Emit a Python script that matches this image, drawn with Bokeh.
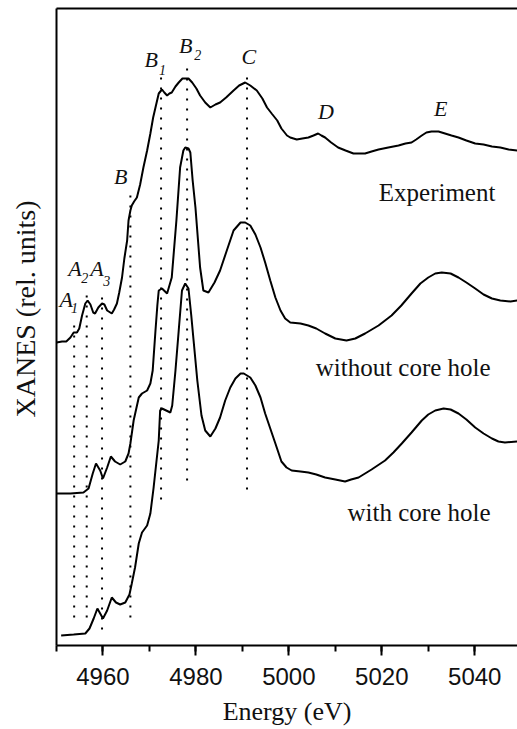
from bokeh.plotting import figure
from bokeh.models import (Range1d, LinearAxis, FixedTicker, SingleIntervalTicker, Title)
from bokeh.core.properties import value
from bokeh.embed import file_html
from bokeh.resources import INLINE

# ---------------- data (energy in eV, intensity in rel. units) ----------------
exp_e = [4950.0, 4951.2, 4952.1, 4953.0, 4953.7, 4954.4, 4954.9, 4955.5, 4956.2, 4956.7,
         4957.3, 4957.9, 4958.3, 4959.0, 4959.8, 4960.3, 4960.9, 4961.9, 4962.4, 4963.0,
         4963.5, 4964.1, 4964.6, 4965.2, 4965.5, 4965.9, 4966.2, 4966.7, 4967.3, 4968.0,
         4968.7, 4969.5, 4970.2, 4970.8, 4971.3, 4972.0, 4972.7, 4973.2, 4973.8, 4974.3,
         4974.8, 4975.6, 4976.3, 4977.1, 4977.7, 4978.4, 4979.2, 4980.1, 4980.9, 4982.0,
         4983.1, 4984.2, 4985.2, 4986.5, 4988.1, 4989.3, 4990.6, 4991.7, 4993.1, 4994.3,
         4995.3, 4996.3, 4997.5, 4998.4, 4999.6, 5000.3, 5001.7, 5002.9, 5004.2, 5005.3,
         5006.3, 5007.0, 5007.8, 5009.1, 5010.6, 5012.2, 5013.9, 5015.0, 5016.4, 5017.8,
         5019.3, 5021.4, 5023.6, 5025.1, 5026.4, 5027.4, 5028.6, 5029.6, 5030.7, 5032.2,
         5033.6, 5035.0, 5036.5, 5038.2, 5040.1, 5041.9, 5043.7, 5045.5, 5047.3, 5049.2]
exp_i = [3.03, 3.04, 3.04, 3.08, 3.13, 3.13, 3.17, 3.30, 3.42, 3.45,
         3.41, 3.33, 3.32, 3.38, 3.42, 3.41, 3.35, 3.32, 3.36, 3.42,
         3.53, 3.68, 3.87, 4.05, 4.25, 4.35, 4.40, 4.44, 4.48, 4.61,
         4.78, 4.95, 5.12, 5.28, 5.38, 5.52, 5.56, 5.53, 5.50, 5.52,
         5.53, 5.59, 5.63, 5.67, 5.67, 5.67, 5.63, 5.57, 5.50, 5.43,
         5.38, 5.41, 5.43, 5.48, 5.55, 5.60, 5.63, 5.60, 5.55, 5.47,
         5.38, 5.32, 5.25, 5.17, 5.10, 5.08, 5.06, 5.07, 5.08, 5.10,
         5.12, 5.10, 5.08, 5.03, 4.98, 4.95, 4.92, 4.92, 4.92, 4.94,
         4.96, 4.98, 5.00, 5.02, 5.03, 5.06, 5.10, 5.13, 5.14, 5.14,
         5.12, 5.10, 5.08, 5.05, 5.02, 5.01, 4.99, 4.98, 4.96, 4.95]

nohole_e = [4950.0, 4953.0, 4955.8, 4956.9, 4957.8, 4958.5, 4959.4, 4960.0, 4960.9, 4961.7,
            4962.6, 4963.7, 4964.8, 4965.5, 4965.9, 4966.6, 4967.7, 4968.4, 4969.5, 4970.2,
            4970.7, 4971.3, 4971.7, 4972.0, 4972.7, 4973.8, 4974.8, 4975.8, 4976.6, 4977.3,
            4977.7, 4978.4, 4978.8, 4979.3, 4979.9, 4980.9, 4981.6, 4982.7, 4984.0, 4985.2,
            4986.5, 4988.1, 4989.6, 4990.6, 4991.7, 4992.8, 4993.9, 4994.9, 4996.0, 4997.1,
            4998.2, 4999.2, 5000.3, 5002.5, 5004.2, 5005.9, 5007.8, 5010.0, 5012.4, 5014.3,
            5016.4, 5019.3, 5022.1, 5024.2, 5026.4, 5028.3, 5030.0, 5031.5, 5032.9, 5034.8,
            5036.5, 5038.2, 5040.1, 5041.9, 5043.7, 5045.5, 5047.7, 5049.2]
nohole_i = [1.52, 1.52, 1.53, 1.57, 1.72, 1.82, 1.75, 1.67, 1.78, 1.89,
            1.84, 1.81, 1.84, 1.92, 2.02, 2.25, 2.48, 2.52, 2.55, 2.62,
            2.75, 3.15, 3.40, 3.55, 3.57, 3.52, 3.68, 4.25, 4.78, 4.95,
            4.98, 4.97, 4.93, 4.65, 4.38, 3.78, 3.55, 3.53, 3.63, 3.75,
            3.93, 4.15, 4.23, 4.23, 4.20, 4.11, 3.98, 3.83, 3.65, 3.48,
            3.35, 3.27, 3.23, 3.22, 3.20, 3.17, 3.12, 3.07, 3.05, 3.07,
            3.12, 3.20, 3.30, 3.40, 3.52, 3.62, 3.68, 3.72, 3.73, 3.72,
            3.68, 3.63, 3.57, 3.51, 3.47, 3.45, 3.44, 3.45]

hole_e = [4951.0, 4953.7, 4956.2, 4957.1, 4958.0, 4958.8, 4959.4, 4960.0, 4960.9, 4961.9,
          4962.8, 4963.7, 4964.8, 4965.7, 4966.2, 4966.9, 4967.7, 4968.4, 4969.5, 4970.2,
          4970.9, 4971.6, 4972.0, 4972.3, 4972.7, 4973.6, 4974.5, 4974.9, 4975.6, 4976.3,
          4977.0, 4977.7, 4978.4, 4979.0, 4979.5, 4980.3, 4981.2, 4982.0, 4983.1, 4984.2,
          4985.2, 4986.3, 4987.4, 4988.5, 4989.6, 4990.3, 4991.7, 4992.8, 4993.9, 4994.9,
          4996.0, 4997.1, 4998.4, 4999.5, 5000.6, 5002.5, 5004.2, 5005.9, 5007.8, 5010.0,
          5012.1, 5013.4, 5015.0, 5017.8, 5020.7, 5022.5, 5024.3, 5026.4, 5028.6, 5030.0,
          5031.5, 5033.3, 5034.8, 5036.5, 5038.2, 5040.1, 5041.9, 5043.7, 5045.1, 5046.5,
          5049.2]
hole_i = [0.10, 0.11, 0.12, 0.17, 0.27, 0.37, 0.32, 0.27, 0.35, 0.48,
          0.43, 0.41, 0.43, 0.51, 0.62, 0.78, 1.02, 1.13, 1.20, 1.32,
          1.58, 1.88, 2.05, 2.35, 2.37, 2.35, 2.33, 2.40, 2.75, 3.15,
          3.55, 3.62, 3.57, 3.30, 3.05, 2.65, 2.30, 2.15, 2.09, 2.17,
          2.28, 2.45, 2.58, 2.67, 2.72, 2.72, 2.68, 2.60, 2.48, 2.32,
          2.17, 2.02, 1.84, 1.78, 1.75, 1.74, 1.73, 1.71, 1.68, 1.66,
          1.64, 1.66, 1.68, 1.76, 1.85, 1.93, 2.02, 2.13, 2.25, 2.31,
          2.35, 2.37, 2.36, 2.32, 2.26, 2.18, 2.12, 2.07, 2.04, 2.03,
          2.04]

# vertical dotted marker lines: energy, top, bottom
mark_e = [4953.8, 4956.5, 4959.8, 4965.9, 4972.5, 4978.1, 4991.0]
mark_top = [3.20, 3.50, 3.48, 4.50, 5.68, 5.77, 5.68]
mark_bot = [0.20, 0.22, 0.10, 0.20, 1.42, 1.57, 1.48]

# feature labels (letter + subscript)
feat_txt = ["A", "A", "A", "B", "B", "B", "C", "D", "E"]
feat_x = [4952.1, 4954.0, 4958.7, 4963.8, 4970.4, 4977.8, 4991.4, 5008.0, 5032.7]
feat_y = [3.46, 3.77, 3.77, 4.69, 5.86, 6.00, 5.89, 5.34, 5.37]
sub_txt = ["1", "2", "3", "1", "2"]
sub_x = [4953.9, 4956.1, 4960.8, 4972.8, 4980.4]
sub_y = [3.38, 3.68, 3.65, 5.76, 5.91]

curve_names = ["Experiment", "without core hole", "with core hole"]
name_x = [5031.9, 5024.6, 5028.0]
name_y = [4.53, 2.78, 1.33]

x_ticks_interval = 20

# ---------------- figure ----------------
p = figure(width=517, height=729, output_backend="svg", toolbar_location=None,
           x_range=Range1d(4950, 5049.2), y_range=Range1d(0, 6.37),
           min_border_left=56, min_border_right=0, min_border_top=8, min_border_bottom=84)
p.xgrid.visible = False
p.ygrid.visible = False
p.outline_line_color = None
p.background_fill_color = "white"
p.border_fill_color = "white"

ax = p.xaxis[0]
ax.ticker = SingleIntervalTicker(interval=x_ticks_interval, num_minor_ticks=2)
ax.axis_line_width = 2
ax.major_tick_line_width = 2
ax.minor_tick_line_width = 2
ax.major_tick_in = 0
ax.major_tick_out = 10
ax.minor_tick_in = 0
ax.minor_tick_out = 6
ax.major_label_text_font = "Liberation Sans"
ax.major_label_text_font_size = "24px"
ax.major_label_text_color = "#111111"
ax.major_label_standoff = 12
ax.axis_label = "Energy (eV)"
ax.axis_label_text_font = "Liberation Serif"
ax.axis_label_text_font_style = "normal"
ax.axis_label_text_font_size = "26px"
ax.axis_label_text_color = "#111111"
ax.axis_label_standoff = 9

ay = p.yaxis[0]
ay.ticker = FixedTicker(ticks=[])
ay.axis_line_width = 2
ay.major_tick_line_color = None
ay.minor_tick_line_color = None
ay.major_label_text_font_size = "0px"

top = LinearAxis(ticker=FixedTicker(ticks=[]), axis_line_width=2,
                 major_tick_line_color=None, minor_tick_line_color=None,
                 major_label_text_font_size="0px")
p.add_layout(top, "above")

# invisible spacer between the y axis line and its label
p.add_layout(Title(text=" ", standoff=0, text_font_size="12px", text_color="white"), "left")
# y axis label as a side title (left-aligned so that an offset can be applied)
p.add_layout(Title(text="XANES (rel. units)", align="left", offset=228, standoff=0,
                   text_font="Liberation Serif", text_font_style="normal",
                   text_font_size="28px", text_color="#111111"), "left")

# curves
for e, i in [(exp_e, exp_i), (nohole_e, nohole_i), (hole_e, hole_i)]:
    p.line(e, i, line_color="black", line_width=2)

# dotted markers
p.segment(x0=mark_e, y0=mark_top, x1=mark_e, y1=mark_bot,
          line_color="black", line_width=2, line_dash="2 8")

# feature letters
p.text(x=feat_x, y=feat_y, text=feat_txt, text_font=value("Liberation Serif"),
       text_font_style="italic", text_font_size="22px", text_align="center",
       text_baseline="alphabetic", text_color="#111111")
p.text(x=sub_x, y=sub_y, text=sub_txt, text_font=value("Liberation Serif"),
       text_font_style="italic", text_font_size="14px", text_align="center",
       text_baseline="alphabetic", text_color="#111111")

# curve names
p.text(x=name_x, y=name_y, text=curve_names, text_font=value("Liberation Serif"),
       text_font_size="25px", text_align="center", text_baseline="alphabetic",
       text_color="#111111")

open("out.html", "w").write(file_html(p, INLINE))
